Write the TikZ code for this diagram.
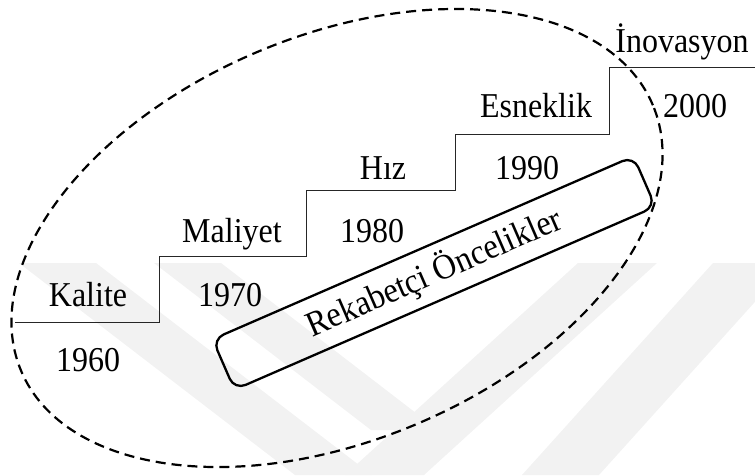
\documentclass[tikz,border=0pt]{standalone}
\usepackage{fontspec}
\usepackage{graphicx}
\setmainfont{Liberation Serif}
\newcommand{\talltext}[1]{\scalebox{1}[1.09]{#1}}
\begin{document}
\begin{tikzpicture}[x=1pt,y=1pt,
  lbl/.style={anchor=base,inner sep=0pt,font=\fontsize{32}{38}\selectfont},
  stairline/.style={line width=1pt,draw=black!85},
  priority/.style={draw,line width=2.3pt,rounded corners=12pt,
    minimum width=459pt,minimum height=55pt,inner sep=0pt,
    font=\fontsize{32.5}{38}\selectfont},
  era/.style={dash pattern=on 10pt off 6pt,line width=2.2pt},
  mark band/.style={fill=black!5,draw=none}]
\useasboundingbox (0,0) rectangle (755,475);

% faint background emblem
\begin{scope}
  \clip (0,0) rectangle (755,212);
  \fill[mark band] (19,212) -- (96,212) -- (372,0) -- (295,0) -- cycle;
  \fill[mark band] (154,212) -- (221,212) -- (438,45) -- (371,45) -- cycle;
  \fill[mark band] (578,212) -- (657,212) -- (424,0) -- (345,0) -- cycle;
  \fill[mark band] (713,212) -- (790,212) -- (599,0) -- (522,0) -- cycle;
\end{scope}

% staircase
\draw[stairline] (15,153) -- (159.5,153) -- (159.5,219) -- (306.5,219)
  -- (306.5,285) -- (455,285) -- (455,340.5) -- (609,340.5)
  -- (609,407.5) -- (755,407.5);

% step labels and years
\node[lbl] (kalite)   at (88,169)  {\talltext{Kalite}};
\node[lbl] (y1960)    at (88,104)  {\talltext{1960}};
\node[lbl] (maliyet)  at (232,233) {\talltext{Maliyet}};
\node[lbl] (y1970)    at (230,169) {\talltext{1970}};
\node[lbl] (y1980)    at (372,233) {\talltext{1980}};
\node[lbl] (hiz)      at (383,296) {\talltext{Hız}};
\node[lbl] (y1990)    at (527,296) {\talltext{1990}};
\node[lbl] (esneklik) at (536,358) {\talltext{Esneklik}};
\node[lbl] (y2000)    at (695,358) {\talltext{2000}};
\node[lbl] (inovasyon) at (682,422) {\talltext{İnovasyon}};

% rotated box
\node[priority,rotate=23.5] (oncelik) at (434,202) {\talltext{Rekabetçi Öncelikler}};

% dashed ellipse
\coordinate (ec) at (337,237);
\draw[era,rotate around={22.8:(ec)}] (ec) ellipse (342.7 and 202.4);
\end{tikzpicture}
\end{document}
